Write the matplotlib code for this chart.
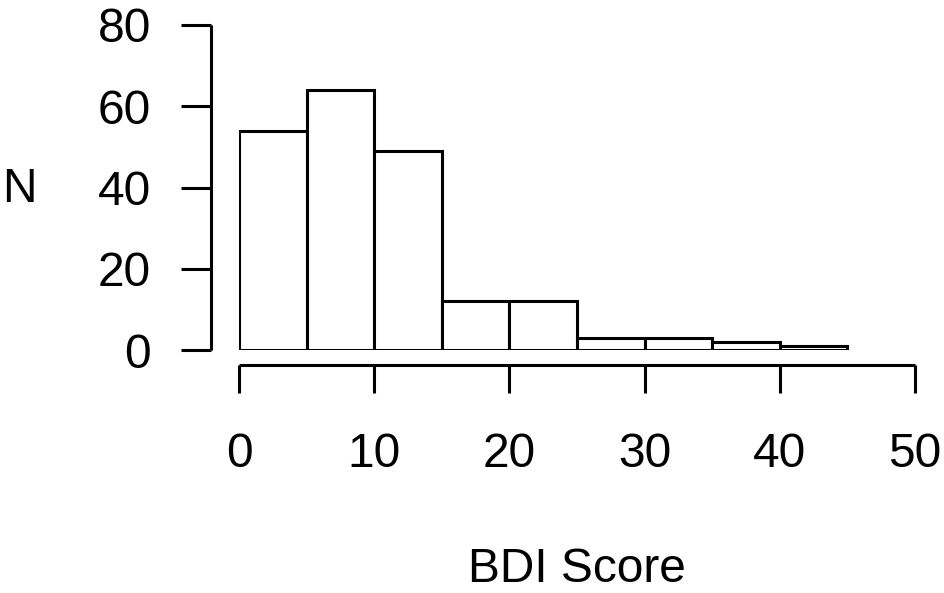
import numpy as np
import matplotlib
matplotlib.use('Agg')
import matplotlib.pyplot as plt

plt.rcParams['font.family'] = ['Liberation Sans', 'DejaVu Sans']

# histogram of BDI scores, bins of width 5
bin_edges = [0, 5, 10, 15, 20, 25, 30, 35, 40, 45]
counts = [54, 64, 49, 12, 12, 3, 3, 2, 1]
x_ticks = [0, 10, 20, 30, 40, 50]
y_ticks = [0, 20, 40, 60, 80]

W, H = 945, 593
fig = plt.figure(figsize=(W / 100, H / 100), dpi=100)
# data area in pixels: x 0..50 -> 239..915, y 0..80 -> 350..25
ax = fig.add_axes([239 / W, (H - 350) / H, 676 / W, 325 / H])

lw = 2.2
fs = 34.5
ax.bar(bin_edges[:-1], counts, width=np.diff(bin_edges), align='edge',
       facecolor='white', edgecolor='black', linewidth=lw)

ax.set_xlim(0, 50)
ax.set_ylim(0, 80)
ax.set_xticks(x_ticks)
ax.set_yticks(y_ticks)

for s in ['top', 'right']:
    ax.spines[s].set_visible(False)
ax.spines['left'].set_position(('outward', 28 * 0.72))
ax.spines['bottom'].set_position(('outward', 15 * 0.72))
ax.spines['left'].set_bounds(0, 80)
ax.spines['bottom'].set_bounds(0, 50)
for s in ['left', 'bottom']:
    ax.spines[s].set_linewidth(lw)
    ax.spines[s].set_capstyle('butt')

ax.tick_params(axis='y', length=30 * 0.72, width=lw, labelsize=fs, pad=21.5)
ax.tick_params(axis='x', length=28 * 0.72, width=lw, labelsize=fs, pad=28)

fig.text(19 / W, 1 - 189 / H, 'N', fontsize=fs, ha='center', va='center')
fig.text(577 / W, 1 - 570 / H, 'BDI Score', fontsize=fs, ha='center', va='center')

fig.savefig('out.png', dpi=100)
